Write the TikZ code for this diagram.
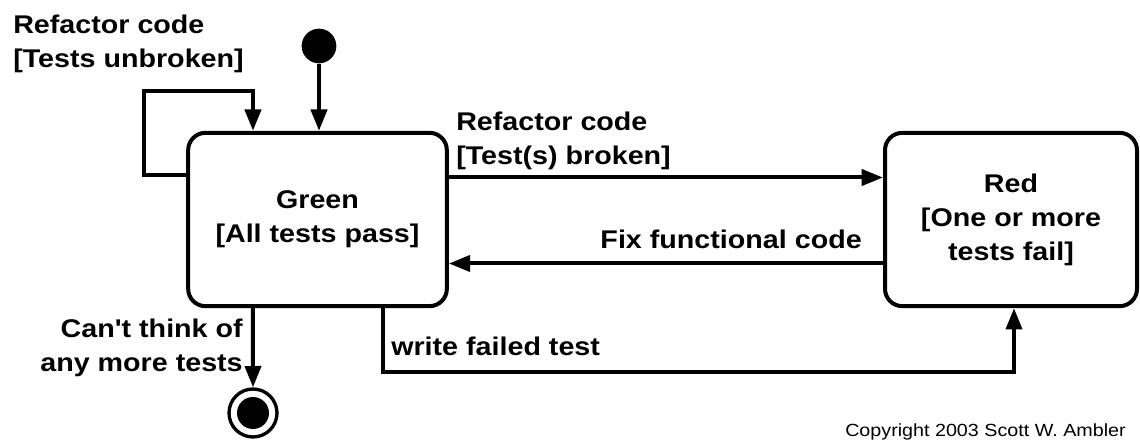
\documentclass[tikz,border=0pt]{standalone}
\usepackage{fontspec}
\setmainfont{Liberation Sans}[FakeStretch=1.12, Ligatures=TeXOff]
\usetikzlibrary{arrows.meta}

\begin{document}
\begin{tikzpicture}[x=0.75pt,y=0.75pt,yscale=-1,xscale=1,
  state/.style={draw, line width=3pt, rounded corners=13pt, align=center, inner sep=0pt,
    font=\bfseries\fontsize{19.2}{25.5}\selectfont},
  lbl/.style={inner sep=0pt, font=\bfseries\fontsize{19.2}{25.5}\selectfont},
  flow/.style={line width=3pt, -{Triangle[length=16pt,width=12pt]}},
  initial/.style={circle, fill, inner sep=0pt, minimum size=26pt},
  final/.style={circle, draw, line width=2.5pt, inner sep=0pt, minimum size=36pt,
    path picture={\fill (path picture bounding box.center) circle (12pt);}}]
\useasboundingbox (0,0) rectangle (1140,442);

% States
\node [state, minimum width=194pt, minimum height=130pt] (green) at (317.5,219.5) {Green\\{}[All tests pass]};
\node [state, minimum width=189pt, minimum height=130pt] (red) at (1011,219.5) {Red\\{}[One or more\\tests fail]};
\node [initial] (start) at (319,46) {};
\node [final] (stop) at (253,413) {};

% Helper corners
\coordinate (loopcorner) at (144,91);
\coordinate (failcorner) at (700,372);

% Transitions
\draw [flow] (start) -- (start |- green.north);
\draw [flow] ([yshift=-33pt]green.west) -| (loopcorner) -| ([xshift=-48.4pt]green.north);
\draw [flow] ([yshift=-31.5pt]green.east) -- ([yshift=-31.5pt]red.west);
\draw [flow] ([yshift=33pt]red.west) -- ([yshift=33pt]green.east);
\draw [flow] ([xshift=49pt]green.south) |- (failcorner) -| ([xshift=2.25pt]red.south);
\draw [flow] ([xshift=-48.4pt]green.south) -- (stop);

% Text Node
\node [lbl, anchor=north west, align=left] (unbroken) at (13,15) {Refactor code\\{}[Tests unbroken]};
% Text Node
\node [lbl, anchor=north west, align=left] (broken) at (456,112) {Refactor code\\{}[Test(s) broken]};
% Text Node
\node [lbl, anchor=north east] (fix) at (862,230) {Fix functional code};
% Text Node
\node [lbl, anchor=north west] (failed) at (391,337) {write failed test};
% Text Node
\node [lbl, anchor=north east, align=right] (nomore) at (243,319) {Can't think of\\any more tests};
% Text Node
\node [inner sep=0pt, anchor=base east, font=\fontsize{13.2}{16}\selectfont] (copyright) at (1126,436) {Copyright 2003 Scott W. Ambler};

\end{tikzpicture}
\end{document}
